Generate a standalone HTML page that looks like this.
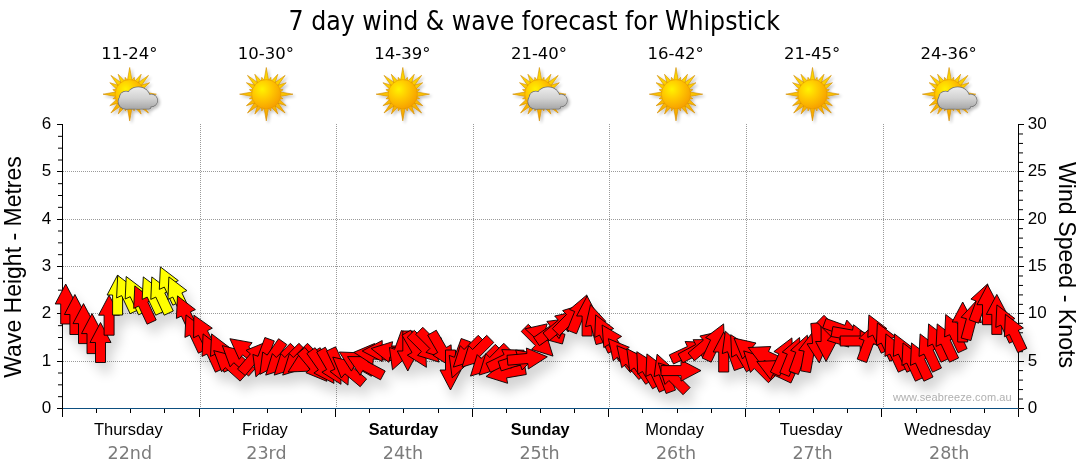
<!DOCTYPE html><html><head><meta charset="utf-8"><title>7 day wind &amp; wave forecast for Whipstick</title>
<style>html,body{margin:0;padding:0;background:#fff;width:1080px;height:475px;overflow:hidden}svg{display:block}.t{font-family:"DejaVu Sans Condensed","DejaVu Sans","Liberation Sans",sans-serif}.a{font-family:"Liberation Sans",Arial,sans-serif}.d{font-family:"DejaVu Sans","Liberation Sans",sans-serif}</style></head><body>
<svg width="1080" height="475" viewBox="0 0 1080 475">
<defs>
<radialGradient id="sd" cx="0.36" cy="0.33" r="0.75">
<stop offset="0" stop-color="#fff200"/><stop offset="0.45" stop-color="#ffc800"/><stop offset="1" stop-color="#f59a00"/></radialGradient>
<linearGradient id="sr" x1="0" y1="0" x2="0" y2="1">
<stop offset="0" stop-color="#ffe000"/><stop offset="1" stop-color="#f5a300"/></linearGradient>
<radialGradient id="cg" cx="0.45" cy="0.25" r="0.85">
<stop offset="0" stop-color="#e6e6e6"/><stop offset="0.55" stop-color="#cdcdcd"/><stop offset="1" stop-color="#9a9a9a"/></radialGradient>
<filter id="ish" x="-30%" y="-30%" width="160%" height="160%"><feGaussianBlur in="SourceAlpha" stdDeviation="1.5"/><feOffset dx="1.5" dy="1.5"/><feComponentTransfer><feFuncA type="linear" slope="0.25"/></feComponentTransfer><feMerge><feMergeNode/><feMergeNode in="SourceGraphic"/></feMerge></filter>
<filter id="ash" x="-10%" y="-30%" width="120%" height="170%"><feGaussianBlur in="SourceAlpha" stdDeviation="6"/><feOffset dx="5" dy="10"/><feComponentTransfer><feFuncA type="linear" slope="0.17"/></feComponentTransfer><feMerge><feMergeNode/><feMergeNode in="SourceGraphic"/></feMerge></filter>
</defs>
<text class="t" x="288.6" y="29.8" font-size="27" textLength="491.5" lengthAdjust="spacingAndGlyphs" fill="#000">7 day wind &amp; wave forecast for Whipstick</text>
<text class="d" x="129.3" y="59" font-size="16.5" text-anchor="middle" fill="#000">11-24°</text>
<g filter="url(#ish)"><path d="M132.30 82.20L129.70 67.50L127.10 82.20ZM134.93 83.18L134.23 77.30L130.68 82.04ZM137.95 85.11L141.20 74.28L133.45 82.51ZM140.02 87.55L148.51 75.39L136.35 83.88ZM141.39 90.45L149.62 82.70L138.79 85.95ZM141.86 93.22L146.60 89.67L140.72 88.97ZM141.70 96.80L156.40 94.20L141.70 91.60ZM140.72 99.43L146.60 98.73L141.86 95.18ZM138.79 102.45L149.62 105.70L141.39 97.95ZM136.35 104.52L148.51 113.01L140.02 100.85ZM133.45 105.89L141.20 114.12L137.95 103.29ZM130.68 106.36L134.23 111.10L134.93 105.22ZM127.10 106.20L129.70 120.90L132.30 106.20ZM124.47 105.22L125.17 111.10L128.72 106.36ZM121.45 103.29L118.20 114.12L125.95 105.89ZM119.38 100.85L110.89 113.01L123.05 104.52ZM118.01 97.95L109.78 105.70L120.61 102.45ZM117.54 95.18L112.80 98.73L118.68 99.43ZM117.70 91.60L103.00 94.20L117.70 96.80ZM118.68 88.97L112.80 89.67L117.54 93.22ZM120.61 85.95L109.78 82.70L118.01 90.45ZM123.05 83.88L110.89 75.39L119.38 87.55ZM125.95 82.51L118.20 74.28L121.45 85.11ZM128.72 82.04L125.17 77.30L124.47 83.18Z" fill="url(#sr)" stroke="#d08a00" stroke-width="0.6" stroke-linejoin="miter"/><circle cx="129.7" cy="94.2" r="14.6" fill="url(#sd)" stroke="#e39400" stroke-width="0.5"/><linearGradient id="cg1" gradientUnits="userSpaceOnUse" x1="0" y1="87.2" x2="0" y2="109.2"><stop offset="0" stop-color="#ececec"/><stop offset="0.5" stop-color="#d2d2d2"/><stop offset="1" stop-color="#a6a6a6"/></linearGradient><g fill="#707070" stroke="#707070" stroke-width="1.5"><circle cx="125.69" cy="101.60" r="7.2"/><circle cx="126.09" cy="97.80" r="6.4"/><ellipse cx="138.28" cy="97.80" rx="11.6" ry="10.6"/><circle cx="151.28" cy="100.40" r="6"/><rect x="124.69" y="100.20" width="26" height="8.6" rx="2"/></g><g fill="url(#cg1)"><circle cx="125.69" cy="101.60" r="7.2"/><circle cx="126.09" cy="97.80" r="6.4"/><ellipse cx="138.28" cy="97.80" rx="11.6" ry="10.6"/><circle cx="151.28" cy="100.40" r="6"/><rect x="124.69" y="100.20" width="26" height="8.6" rx="2"/></g></g>
<text class="a" x="128.3" y="434.5" font-size="16.5" text-anchor="middle" fill="#000">Thursday</text>
<text class="d" x="129.8" y="458.7" font-size="17.5" text-anchor="middle" fill="#7b7b7b">22nd</text>
<text class="d" x="265.9" y="59" font-size="16.5" text-anchor="middle" fill="#000">10-30°</text>
<g filter="url(#ish)"><path d="M268.90 82.20L266.30 67.50L263.70 82.20ZM271.53 83.18L270.83 77.30L267.28 82.04ZM274.55 85.11L277.80 74.28L270.05 82.51ZM276.62 87.55L285.11 75.39L272.95 83.88ZM277.99 90.45L286.22 82.70L275.39 85.95ZM278.46 93.22L283.20 89.67L277.32 88.97ZM278.30 96.80L293.00 94.20L278.30 91.60ZM277.32 99.43L283.20 98.73L278.46 95.18ZM275.39 102.45L286.22 105.70L277.99 97.95ZM272.95 104.52L285.11 113.01L276.62 100.85ZM270.05 105.89L277.80 114.12L274.55 103.29ZM267.28 106.36L270.83 111.10L271.53 105.22ZM263.70 106.20L266.30 120.90L268.90 106.20ZM261.07 105.22L261.77 111.10L265.32 106.36ZM258.05 103.29L254.80 114.12L262.55 105.89ZM255.98 100.85L247.49 113.01L259.65 104.52ZM254.61 97.95L246.38 105.70L257.21 102.45ZM254.14 95.18L249.40 98.73L255.28 99.43ZM254.30 91.60L239.60 94.20L254.30 96.80ZM255.28 88.97L249.40 89.67L254.14 93.22ZM257.21 85.95L246.38 82.70L254.61 90.45ZM259.65 83.88L247.49 75.39L255.98 87.55ZM262.55 82.51L254.80 74.28L258.05 85.11ZM265.32 82.04L261.77 77.30L261.07 83.18Z" fill="url(#sr)" stroke="#d08a00" stroke-width="0.6" stroke-linejoin="miter"/><circle cx="266.3" cy="94.2" r="14.6" fill="url(#sd)" stroke="#e39400" stroke-width="0.5"/></g>
<text class="a" x="264.9" y="434.5" font-size="16.5" text-anchor="middle" fill="#000">Friday</text>
<text class="d" x="266.4" y="458.7" font-size="17.5" text-anchor="middle" fill="#7b7b7b">23rd</text>
<text class="d" x="402.4" y="59" font-size="16.5" text-anchor="middle" fill="#000">14-39°</text>
<g filter="url(#ish)"><path d="M405.40 82.20L402.80 67.50L400.20 82.20ZM408.03 83.18L407.33 77.30L403.78 82.04ZM411.05 85.11L414.30 74.28L406.55 82.51ZM413.12 87.55L421.61 75.39L409.45 83.88ZM414.49 90.45L422.72 82.70L411.89 85.95ZM414.96 93.22L419.70 89.67L413.82 88.97ZM414.80 96.80L429.50 94.20L414.80 91.60ZM413.82 99.43L419.70 98.73L414.96 95.18ZM411.89 102.45L422.72 105.70L414.49 97.95ZM409.45 104.52L421.61 113.01L413.12 100.85ZM406.55 105.89L414.30 114.12L411.05 103.29ZM403.78 106.36L407.33 111.10L408.03 105.22ZM400.20 106.20L402.80 120.90L405.40 106.20ZM397.57 105.22L398.27 111.10L401.82 106.36ZM394.55 103.29L391.30 114.12L399.05 105.89ZM392.48 100.85L383.99 113.01L396.15 104.52ZM391.11 97.95L382.88 105.70L393.71 102.45ZM390.64 95.18L385.90 98.73L391.78 99.43ZM390.80 91.60L376.10 94.20L390.80 96.80ZM391.78 88.97L385.90 89.67L390.64 93.22ZM393.71 85.95L382.88 82.70L391.11 90.45ZM396.15 83.88L383.99 75.39L392.48 87.55ZM399.05 82.51L391.30 74.28L394.55 85.11ZM401.82 82.04L398.27 77.30L397.57 83.18Z" fill="url(#sr)" stroke="#d08a00" stroke-width="0.6" stroke-linejoin="miter"/><circle cx="402.8" cy="94.2" r="14.6" fill="url(#sd)" stroke="#e39400" stroke-width="0.5"/></g>
<text class="a" x="403.6" y="434.5" font-size="16.3" font-weight="bold" text-anchor="middle" fill="#000">Saturday</text>
<text class="d" x="402.9" y="458.7" font-size="17.5" text-anchor="middle" fill="#7b7b7b">24th</text>
<text class="d" x="539.0" y="59" font-size="16.5" text-anchor="middle" fill="#000">21-40°</text>
<g filter="url(#ish)"><path d="M542.00 82.20L539.40 67.50L536.80 82.20ZM544.63 83.18L543.93 77.30L540.38 82.04ZM547.65 85.11L550.90 74.28L543.15 82.51ZM549.72 87.55L558.21 75.39L546.05 83.88ZM551.09 90.45L559.32 82.70L548.49 85.95ZM551.56 93.22L556.30 89.67L550.42 88.97ZM551.40 96.80L566.10 94.20L551.40 91.60ZM550.42 99.43L556.30 98.73L551.56 95.18ZM548.49 102.45L559.32 105.70L551.09 97.95ZM546.05 104.52L558.21 113.01L549.72 100.85ZM543.15 105.89L550.90 114.12L547.65 103.29ZM540.38 106.36L543.93 111.10L544.63 105.22ZM536.80 106.20L539.40 120.90L542.00 106.20ZM534.17 105.22L534.87 111.10L538.42 106.36ZM531.15 103.29L527.90 114.12L535.65 105.89ZM529.08 100.85L520.59 113.01L532.75 104.52ZM527.71 97.95L519.48 105.70L530.31 102.45ZM527.24 95.18L522.50 98.73L528.38 99.43ZM527.40 91.60L512.70 94.20L527.40 96.80ZM528.38 88.97L522.50 89.67L527.24 93.22ZM530.31 85.95L519.48 82.70L527.71 90.45ZM532.75 83.88L520.59 75.39L529.08 87.55ZM535.65 82.51L527.90 74.28L531.15 85.11ZM538.42 82.04L534.87 77.30L534.17 83.18Z" fill="url(#sr)" stroke="#d08a00" stroke-width="0.6" stroke-linejoin="miter"/><circle cx="539.4" cy="94.2" r="14.6" fill="url(#sd)" stroke="#e39400" stroke-width="0.5"/><linearGradient id="cg2" gradientUnits="userSpaceOnUse" x1="0" y1="87.2" x2="0" y2="109.2"><stop offset="0" stop-color="#ececec"/><stop offset="0.5" stop-color="#d2d2d2"/><stop offset="1" stop-color="#a6a6a6"/></linearGradient><g fill="#707070" stroke="#707070" stroke-width="1.5"><circle cx="535.39" cy="101.60" r="7.2"/><circle cx="535.79" cy="97.80" r="6.4"/><ellipse cx="548.00" cy="97.80" rx="11.6" ry="10.6"/><circle cx="561.00" cy="100.40" r="6"/><rect x="534.39" y="100.20" width="26" height="8.6" rx="2"/></g><g fill="url(#cg2)"><circle cx="535.39" cy="101.60" r="7.2"/><circle cx="535.79" cy="97.80" r="6.4"/><ellipse cx="548.00" cy="97.80" rx="11.6" ry="10.6"/><circle cx="561.00" cy="100.40" r="6"/><rect x="534.39" y="100.20" width="26" height="8.6" rx="2"/></g></g>
<text class="a" x="540.2" y="434.5" font-size="16.3" font-weight="bold" text-anchor="middle" fill="#000">Sunday</text>
<text class="d" x="539.5" y="458.7" font-size="17.5" text-anchor="middle" fill="#7b7b7b">25th</text>
<text class="d" x="675.6" y="59" font-size="16.5" text-anchor="middle" fill="#000">16-42°</text>
<g filter="url(#ish)"><path d="M678.60 82.20L676.00 67.50L673.40 82.20ZM681.23 83.18L680.53 77.30L676.98 82.04ZM684.25 85.11L687.50 74.28L679.75 82.51ZM686.32 87.55L694.81 75.39L682.65 83.88ZM687.69 90.45L695.92 82.70L685.09 85.95ZM688.16 93.22L692.90 89.67L687.02 88.97ZM688.00 96.80L702.70 94.20L688.00 91.60ZM687.02 99.43L692.90 98.73L688.16 95.18ZM685.09 102.45L695.92 105.70L687.69 97.95ZM682.65 104.52L694.81 113.01L686.32 100.85ZM679.75 105.89L687.50 114.12L684.25 103.29ZM676.98 106.36L680.53 111.10L681.23 105.22ZM673.40 106.20L676.00 120.90L678.60 106.20ZM670.77 105.22L671.47 111.10L675.02 106.36ZM667.75 103.29L664.50 114.12L672.25 105.89ZM665.68 100.85L657.19 113.01L669.35 104.52ZM664.31 97.95L656.08 105.70L666.91 102.45ZM663.84 95.18L659.10 98.73L664.98 99.43ZM664.00 91.60L649.30 94.20L664.00 96.80ZM664.98 88.97L659.10 89.67L663.84 93.22ZM666.91 85.95L656.08 82.70L664.31 90.45ZM669.35 83.88L657.19 75.39L665.68 87.55ZM672.25 82.51L664.50 74.28L667.75 85.11ZM675.02 82.04L671.47 77.30L670.77 83.18Z" fill="url(#sr)" stroke="#d08a00" stroke-width="0.6" stroke-linejoin="miter"/><circle cx="676.0" cy="94.2" r="14.6" fill="url(#sd)" stroke="#e39400" stroke-width="0.5"/></g>
<text class="a" x="674.6" y="434.5" font-size="16.5" text-anchor="middle" fill="#000">Monday</text>
<text class="d" x="676.1" y="458.7" font-size="17.5" text-anchor="middle" fill="#7b7b7b">26th</text>
<text class="d" x="812.1" y="59" font-size="16.5" text-anchor="middle" fill="#000">21-45°</text>
<g filter="url(#ish)"><path d="M815.10 82.20L812.50 67.50L809.90 82.20ZM817.73 83.18L817.03 77.30L813.48 82.04ZM820.75 85.11L824.00 74.28L816.25 82.51ZM822.82 87.55L831.31 75.39L819.15 83.88ZM824.19 90.45L832.42 82.70L821.59 85.95ZM824.66 93.22L829.40 89.67L823.52 88.97ZM824.50 96.80L839.20 94.20L824.50 91.60ZM823.52 99.43L829.40 98.73L824.66 95.18ZM821.59 102.45L832.42 105.70L824.19 97.95ZM819.15 104.52L831.31 113.01L822.82 100.85ZM816.25 105.89L824.00 114.12L820.75 103.29ZM813.48 106.36L817.03 111.10L817.73 105.22ZM809.90 106.20L812.50 120.90L815.10 106.20ZM807.27 105.22L807.97 111.10L811.52 106.36ZM804.25 103.29L801.00 114.12L808.75 105.89ZM802.18 100.85L793.69 113.01L805.85 104.52ZM800.81 97.95L792.58 105.70L803.41 102.45ZM800.34 95.18L795.60 98.73L801.48 99.43ZM800.50 91.60L785.80 94.20L800.50 96.80ZM801.48 88.97L795.60 89.67L800.34 93.22ZM803.41 85.95L792.58 82.70L800.81 90.45ZM805.85 83.88L793.69 75.39L802.18 87.55ZM808.75 82.51L801.00 74.28L804.25 85.11ZM811.52 82.04L807.97 77.30L807.27 83.18Z" fill="url(#sr)" stroke="#d08a00" stroke-width="0.6" stroke-linejoin="miter"/><circle cx="812.5" cy="94.2" r="14.6" fill="url(#sd)" stroke="#e39400" stroke-width="0.5"/></g>
<text class="a" x="811.1" y="434.5" font-size="16.5" text-anchor="middle" fill="#000">Tuesday</text>
<text class="d" x="812.6" y="458.7" font-size="17.5" text-anchor="middle" fill="#7b7b7b">27th</text>
<text class="d" x="948.7" y="59" font-size="16.5" text-anchor="middle" fill="#000">24-36°</text>
<g filter="url(#ish)"><path d="M951.70 82.20L949.10 67.50L946.50 82.20ZM954.33 83.18L953.63 77.30L950.08 82.04ZM957.35 85.11L960.60 74.28L952.85 82.51ZM959.42 87.55L967.91 75.39L955.75 83.88ZM960.79 90.45L969.02 82.70L958.19 85.95ZM961.26 93.22L966.00 89.67L960.12 88.97ZM961.10 96.80L975.80 94.20L961.10 91.60ZM960.12 99.43L966.00 98.73L961.26 95.18ZM958.19 102.45L969.02 105.70L960.79 97.95ZM955.75 104.52L967.91 113.01L959.42 100.85ZM952.85 105.89L960.60 114.12L957.35 103.29ZM950.08 106.36L953.63 111.10L954.33 105.22ZM946.50 106.20L949.10 120.90L951.70 106.20ZM943.87 105.22L944.57 111.10L948.12 106.36ZM940.85 103.29L937.60 114.12L945.35 105.89ZM938.78 100.85L930.29 113.01L942.45 104.52ZM937.41 97.95L929.18 105.70L940.01 102.45ZM936.94 95.18L932.20 98.73L938.08 99.43ZM937.10 91.60L922.40 94.20L937.10 96.80ZM938.08 88.97L932.20 89.67L936.94 93.22ZM940.01 85.95L929.18 82.70L937.41 90.45ZM942.45 83.88L930.29 75.39L938.78 87.55ZM945.35 82.51L937.60 74.28L940.85 85.11ZM948.12 82.04L944.57 77.30L943.87 83.18Z" fill="url(#sr)" stroke="#d08a00" stroke-width="0.6" stroke-linejoin="miter"/><circle cx="949.1" cy="94.2" r="14.6" fill="url(#sd)" stroke="#e39400" stroke-width="0.5"/><linearGradient id="cg3" gradientUnits="userSpaceOnUse" x1="0" y1="87.2" x2="0" y2="109.2"><stop offset="0" stop-color="#ececec"/><stop offset="0.5" stop-color="#d2d2d2"/><stop offset="1" stop-color="#a6a6a6"/></linearGradient><g fill="#707070" stroke="#707070" stroke-width="1.5"><circle cx="945.10" cy="101.60" r="7.2"/><circle cx="945.50" cy="97.80" r="6.4"/><ellipse cx="957.70" cy="97.80" rx="11.6" ry="10.6"/><circle cx="970.70" cy="100.40" r="6"/><rect x="944.10" y="100.20" width="26" height="8.6" rx="2"/></g><g fill="url(#cg3)"><circle cx="945.10" cy="101.60" r="7.2"/><circle cx="945.50" cy="97.80" r="6.4"/><ellipse cx="957.70" cy="97.80" rx="11.6" ry="10.6"/><circle cx="970.70" cy="100.40" r="6"/><rect x="944.10" y="100.20" width="26" height="8.6" rx="2"/></g></g>
<text class="a" x="947.7" y="434.5" font-size="16.5" text-anchor="middle" fill="#000">Wednesday</text>
<text class="d" x="949.2" y="458.7" font-size="17.5" text-anchor="middle" fill="#7b7b7b">28th</text>
<path d="M63 361.5H1018M63 313.5H1018M63 266.5H1018M63 219.5H1018M63 171.5H1018M200.5 124V408M336.5 124V408M473.5 124V408M609.5 124V408M746.5 124V408M883.5 124V408" stroke="#9a9a9a" stroke-width="1" stroke-dasharray="1 1" fill="none"/>
<text class="a" x="893" y="400.8" font-size="11" letter-spacing="0.1" fill="#b0b0b0">www.seabreeze.com.au</text>
<path d="M62.5 124V417M1018.5 124V408.5M57 408.5H62.5M58 396.67H62.5M58 384.83H62.5M58 373.00H62.5M57 361.5H62.5M58 349.33H62.5M58 337.50H62.5M58 325.67H62.5M57 313.5H62.5M58 302.00H62.5M58 290.17H62.5M58 278.33H62.5M57 266.5H62.5M58 254.67H62.5M58 242.83H62.5M58 231.00H62.5M57 219.5H62.5M58 207.33H62.5M58 195.50H62.5M58 183.67H62.5M57 171.5H62.5M58 160.00H62.5M58 148.17H62.5M58 136.34H62.5M57 124.5H62.5M1018.5 408.5H1024M1018.5 399.03H1023M1018.5 389.57H1023M1018.5 380.10H1023M1018.5 370.63H1023M1018.5 361.5H1024M1018.5 351.70H1023M1018.5 342.23H1023M1018.5 332.77H1023M1018.5 323.30H1023M1018.5 313.5H1024M1018.5 304.37H1023M1018.5 294.90H1023M1018.5 285.43H1023M1018.5 275.97H1023M1018.5 266.5H1024M1018.5 257.03H1023M1018.5 247.57H1023M1018.5 238.10H1023M1018.5 228.63H1023M1018.5 219.5H1024M1018.5 209.70H1023M1018.5 200.23H1023M1018.5 190.77H1023M1018.5 181.30H1023M1018.5 171.5H1024M1018.5 162.37H1023M1018.5 152.90H1023M1018.5 143.43H1023M1018.5 133.97H1023M1018.5 124.5H1024" stroke="#000" stroke-width="1" fill="none"/>
<path d="M96.5 409V413M130.5 409V413M164.5 409V413M199.5 409V417M233.5 409V413M267.5 409V413M301.5 409V413M335.5 409V417M369.5 409V413M403.5 409V413M438.5 409V413M472.5 409V417M506.5 409V413M540.5 409V413M574.5 409V413M608.5 409V417M642.5 409V413M677.5 409V413M711.5 409V413M745.5 409V417M779.5 409V413M813.5 409V413M847.5 409V413M881.5 409V417M916.5 409V413M950.5 409V413M984.5 409V413M1018.5 409V417" stroke="#000" stroke-width="1" fill="none"/>
<path d="M63 408.5H1018" stroke="#0d4f80" stroke-width="1.2" fill="none"/>
<g filter="url(#ash)" stroke="#000" stroke-width="0.9" stroke-linejoin="miter"><polygon points="65.7,284.0 76.2,304.0 70.7,304.0 70.7,324.0 60.7,324.0 60.7,304.0 55.2,304.0" fill="#ff0000"/><polygon points="74.9,294.5 85.4,314.5 79.9,314.5 79.9,334.5 69.9,334.5 69.9,314.5 64.4,314.5" fill="#ff0000"/><polygon points="83.5,303.6 94.0,323.6 88.5,323.6 88.5,343.6 78.5,343.6 78.5,323.6 73.0,323.6" fill="#ff0000"/><polygon points="92.0,313.6 102.5,333.6 97.0,333.6 97.0,353.6 87.0,353.6 87.0,333.6 81.5,333.6" fill="#ff0000"/><polygon points="100.5,322.5 111.0,342.5 105.5,342.5 105.5,362.5 95.5,362.5 95.5,342.5 90.0,342.5" fill="#ff0000"/><polygon points="109.1,295.2 119.6,315.2 114.1,315.2 114.1,335.2 104.1,335.2 104.1,315.2 98.6,315.2" fill="#ff0000"/><polygon points="117.6,275.0 128.1,295.0 122.6,295.0 122.6,315.0 112.6,315.0 112.6,295.0 107.1,295.0" fill="#ffff00"/><polygon points="117.7,275.4 135.7,289.1 130.7,291.4 139.1,309.5 130.1,313.7 121.6,295.6 116.6,297.9" fill="#ffff00"/><polygon points="126.2,276.5 144.2,290.2 139.2,292.5 147.7,310.6 138.6,314.8 130.2,296.7 125.2,299.0" fill="#ffff00"/><polygon points="134.8,285.9 152.7,299.6 147.8,301.9 156.2,320.0 147.1,324.2 138.7,306.1 133.7,308.4" fill="#ff0000"/><polygon points="143.3,276.9 161.3,290.6 156.3,292.9 164.7,311.0 155.7,315.2 147.2,297.1 142.2,299.4" fill="#ffff00"/><polygon points="151.8,276.9 169.8,290.6 164.8,292.9 173.3,311.0 164.2,315.2 155.8,297.1 150.8,299.4" fill="#ffff00"/><polygon points="160.4,266.9 178.3,280.6 173.4,282.9 181.8,301.0 172.8,305.2 164.3,287.1 159.3,289.4" fill="#ffff00"/><polygon points="168.9,276.9 186.9,290.6 181.9,292.9 190.4,311.0 181.3,315.2 172.8,297.1 167.9,299.4" fill="#ffff00"/><polygon points="177.5,295.9 195.4,309.6 190.4,311.9 198.9,330.0 189.8,334.2 181.4,316.1 176.4,318.4" fill="#ff0000"/><polygon points="186.0,314.9 204.0,328.6 199.0,330.9 207.4,349.0 198.4,353.2 189.9,335.1 184.9,337.4" fill="#ff0000"/><polygon points="193.9,315.2 212.3,328.2 207.4,330.7 216.5,348.6 207.6,353.1 198.5,335.3 193.6,337.8" fill="#ff0000"/><polygon points="203.1,333.9 221.0,347.6 216.0,349.9 224.5,368.0 215.4,372.2 207.0,354.1 202.0,356.4" fill="#ff0000"/><polygon points="211.6,333.9 229.6,347.6 224.6,349.9 233.0,368.0 224.0,372.2 215.5,354.1 210.5,356.4" fill="#ff0000"/><polygon points="213.7,350.6 235.6,356.2 231.9,360.3 246.8,373.7 240.1,381.1 225.2,367.7 221.6,371.8" fill="#ff0000"/><polygon points="222.3,345.6 244.1,351.2 240.5,355.3 255.3,368.7 248.6,376.1 233.8,362.7 230.1,366.8" fill="#ff0000"/><polygon points="229.9,338.7 252.1,342.7 248.7,347.1 264.5,359.4 258.3,367.3 242.6,354.9 239.2,359.3" fill="#ff0000"/><polygon points="267.0,341.7 262.2,363.7 258.0,360.2 245.2,375.5 237.5,369.1 250.4,353.8 246.1,350.3" fill="#ff0000"/><polygon points="255.9,376.8 252.9,354.4 258.0,356.3 264.9,337.5 274.3,340.9 267.4,359.7 272.6,361.6" fill="#ff0000"/><polygon points="259.8,374.4 262.7,352.0 267.2,355.1 278.6,338.7 286.8,344.5 275.4,360.9 279.9,364.0" fill="#ff0000"/><polygon points="265.7,375.1 272.4,353.6 276.3,357.5 290.4,343.3 297.5,350.4 283.3,364.5 287.2,368.4" fill="#ff0000"/><polygon points="274.2,375.1 280.9,353.6 284.8,357.5 298.9,343.3 306.0,350.4 291.9,364.5 295.8,368.4" fill="#ff0000"/><polygon points="282.7,375.1 289.4,353.6 293.3,357.5 307.5,343.3 314.5,350.4 300.4,364.5 304.3,368.4" fill="#ff0000"/><polygon points="288.1,372.0 300.2,352.9 302.9,357.7 320.2,347.7 325.2,356.3 307.9,366.3 310.7,371.1" fill="#ff0000"/><polygon points="326.8,381.3 305.9,372.7 310.1,369.2 297.3,353.9 304.9,347.5 317.8,362.8 322.0,359.3" fill="#ff0000"/><polygon points="334.0,383.4 313.9,373.0 318.4,369.9 306.9,353.5 315.1,347.7 326.6,364.1 331.1,361.0" fill="#ff0000"/><polygon points="341.0,384.3 321.9,372.2 326.7,369.5 316.7,352.2 325.3,347.2 335.3,364.5 340.1,361.8" fill="#ff0000"/><polygon points="348.0,385.1 330.0,371.4 335.0,369.1 326.6,351.0 335.6,346.8 344.1,364.9 349.1,362.6" fill="#ff0000"/><polygon points="332.8,357.1 354.8,362.0 351.3,366.2 366.6,379.0 360.2,386.7 344.9,373.8 341.3,378.0" fill="#ff0000"/><polygon points="339.3,352.0 361.9,352.9 359.1,357.7 376.4,367.7 371.4,376.3 354.1,366.3 351.4,371.1" fill="#ff0000"/><polygon points="347.5,356.6 370.1,356.7 367.5,361.6 385.2,371.0 380.5,379.8 362.8,370.4 360.2,375.3" fill="#ff0000"/><polygon points="353.8,352.3 374.6,343.5 374.1,349.0 394.1,350.8 393.2,360.7 373.3,359.0 372.8,364.5" fill="#ff0000"/><polygon points="362.2,351.0 382.2,340.5 382.2,346.0 402.2,346.0 402.2,356.0 382.2,356.0 382.2,361.5" fill="#ff0000"/><polygon points="371.1,348.5 392.6,341.7 391.6,347.1 411.3,350.5 409.6,360.4 389.9,356.9 388.9,362.3" fill="#ff0000"/><polygon points="392.5,369.8 389.4,347.4 394.6,349.3 401.4,330.5 410.8,333.9 404.0,352.7 409.2,354.6" fill="#ff0000"/><polygon points="407.8,371.0 397.3,351.0 402.8,351.0 402.8,331.0 412.8,331.0 412.8,351.0 418.3,351.0" fill="#ff0000"/><polygon points="426.4,367.3 407.3,355.2 412.0,352.5 402.0,335.2 410.7,330.2 420.7,347.5 425.5,344.8" fill="#ff0000"/><polygon points="439.1,362.1 417.5,355.4 421.4,351.5 407.2,337.4 414.3,330.3 428.4,344.5 432.3,340.6" fill="#ff0000"/><polygon points="447.6,359.1 426.0,352.4 429.9,348.5 415.8,334.4 422.8,327.3 437.0,341.5 440.9,337.6" fill="#ff0000"/><polygon points="452.0,367.3 432.9,355.2 437.7,352.5 427.7,335.2 436.3,330.2 446.3,347.5 451.1,344.8" fill="#ff0000"/><polygon points="450.5,390.0 440.0,370.0 445.5,370.0 445.5,350.0 455.5,350.0 455.5,370.0 461.0,370.0" fill="#ff0000"/><polygon points="452.2,377.8 449.2,355.4 454.4,357.3 461.2,338.5 470.6,341.9 463.8,360.7 468.9,362.6" fill="#ff0000"/><polygon points="453.4,367.1 460.2,345.6 464.1,349.5 478.2,335.3 485.3,342.4 471.1,356.5 475.0,360.4" fill="#ff0000"/><polygon points="462.0,367.1 468.7,345.6 472.6,349.5 486.7,335.3 493.8,342.4 479.7,356.5 483.6,360.4" fill="#ff0000"/><polygon points="470.5,376.1 477.2,354.6 481.1,358.5 495.3,344.3 502.3,351.4 488.2,365.5 492.1,369.4" fill="#ff0000"/><polygon points="479.1,375.1 485.8,353.6 489.7,357.5 503.8,343.3 510.9,350.4 496.7,364.5 500.6,368.4" fill="#ff0000"/><polygon points="486.0,376.5 503.9,362.7 504.9,368.1 524.6,364.6 526.3,374.5 506.6,377.9 507.6,383.3" fill="#ff0000"/><polygon points="524.2,350.2 510.9,368.4 508.5,363.5 490.5,372.3 486.1,363.3 504.1,354.5 501.7,349.6" fill="#ff0000"/><polygon points="537.8,353.8 522.1,370.0 520.4,364.8 501.3,370.9 498.2,361.4 517.3,355.2 515.6,350.0" fill="#ff0000"/><polygon points="547.3,356.8 528.3,369.0 527.8,363.5 507.9,365.2 507.0,355.3 526.9,353.5 526.4,348.0" fill="#ff0000"/><polygon points="553.0,356.1 531.5,349.4 535.3,345.5 521.2,331.4 528.3,324.3 542.4,338.5 546.3,334.6" fill="#ff0000"/><polygon points="525.1,328.8 547.1,323.9 545.7,329.2 565.0,334.3 562.4,344.0 543.1,338.8 541.7,344.1" fill="#ff0000"/><polygon points="569.3,318.5 559.0,338.6 555.8,334.1 539.4,345.6 533.7,337.4 550.1,325.9 546.9,321.4" fill="#ff0000"/><polygon points="576.8,311.1 568.2,332.0 564.7,327.8 549.4,340.7 543.0,333.0 558.3,320.2 554.7,316.0" fill="#ff0000"/><polygon points="584.2,303.9 577.4,325.4 573.6,321.5 559.4,335.7 552.3,328.6 566.5,314.5 562.6,310.6" fill="#ff0000"/><polygon points="586.9,294.9 589.1,317.3 584.0,315.3 576.5,333.8 567.2,330.1 574.7,311.5 569.6,309.5" fill="#ff0000"/><polygon points="587.1,296.0 597.6,316.0 592.1,316.0 592.1,336.0 582.1,336.0 582.1,316.0 576.6,316.0" fill="#ff0000"/><polygon points="590.5,304.7 605.8,321.3 600.5,322.7 605.6,342.0 596.0,344.6 590.8,325.3 585.5,326.7" fill="#ff0000"/><polygon points="595.7,314.9 613.7,328.6 608.7,330.9 617.2,349.0 608.1,353.2 599.6,335.1 594.7,337.4" fill="#ff0000"/><polygon points="602.1,325.0 621.6,336.4 616.9,339.4 627.5,356.3 619.1,361.6 608.5,344.6 603.8,347.6" fill="#ff0000"/><polygon points="608.4,338.7 629.3,347.3 625.1,350.8 637.9,366.1 630.3,372.5 617.4,357.2 613.2,360.7" fill="#ff0000"/><polygon points="616.9,345.7 637.8,354.3 633.6,357.8 646.5,373.1 638.8,379.5 625.9,364.2 621.7,367.7" fill="#ff0000"/><polygon points="626.8,348.6 646.9,359.0 642.4,362.1 653.9,378.5 645.7,384.3 634.2,367.9 629.7,371.0" fill="#ff0000"/><polygon points="636.8,351.7 655.9,363.8 651.2,366.5 661.2,383.8 652.5,388.8 642.5,371.5 637.8,374.2" fill="#ff0000"/><polygon points="646.9,353.9 664.9,367.6 659.9,369.9 668.4,388.0 659.3,392.2 650.9,374.1 645.9,376.4" fill="#ff0000"/><polygon points="657.1,354.2 673.8,369.4 668.6,371.3 675.5,390.1 666.1,393.5 659.2,374.7 654.1,376.6" fill="#ff0000"/><polygon points="658.3,362.9 679.9,369.6 676.0,373.5 690.1,387.6 683.1,394.7 668.9,380.5 665.0,384.4" fill="#ff0000"/><polygon points="701.0,370.6 681.0,381.1 681.0,375.6 661.0,375.6 661.0,365.6 681.0,365.6 681.0,360.1" fill="#ff0000"/><polygon points="707.7,342.5 694.0,360.5 691.6,355.5 673.5,364.0 669.3,354.9 687.4,346.5 685.1,341.5" fill="#ff0000"/><polygon points="715.7,339.6 703.0,358.3 700.4,353.4 682.8,362.8 678.1,354.0 695.7,344.6 693.1,339.7" fill="#ff0000"/><polygon points="721.9,331.1 713.3,352.0 709.8,347.8 694.5,360.7 688.1,353.0 703.4,340.2 699.9,336.0" fill="#ff0000"/><polygon points="723.6,323.9 724.7,346.4 719.7,344.1 711.2,362.2 702.2,358.0 710.6,339.9 705.6,337.6" fill="#ff0000"/><polygon points="723.7,332.0 734.2,352.0 728.7,352.0 728.7,372.0 718.7,372.0 718.7,352.0 713.2,352.0" fill="#ff0000"/><polygon points="725.4,331.2 742.1,346.4 736.9,348.3 743.7,367.1 734.3,370.5 727.5,351.7 722.3,353.6" fill="#ff0000"/><polygon points="730.7,334.7 749.8,346.8 745.1,349.5 755.1,366.8 746.4,371.8 736.4,354.5 731.7,357.2" fill="#ff0000"/><polygon points="734.0,338.1 756.0,343.0 752.5,347.2 767.8,360.0 761.4,367.7 746.1,354.8 742.5,359.0" fill="#ff0000"/><polygon points="743.7,350.9 765.2,357.6 761.4,361.5 775.5,375.6 768.4,382.7 754.3,368.5 750.4,372.4" fill="#ff0000"/><polygon points="748.2,347.5 770.8,346.5 768.5,351.5 786.6,359.9 782.4,369.0 764.2,360.5 761.9,365.5" fill="#ff0000"/><polygon points="756.8,361.5 779.3,360.5 777.0,365.5 795.1,373.9 790.9,383.0 772.8,374.5 770.5,379.5" fill="#ff0000"/><polygon points="791.9,337.9 792.9,360.4 788.0,358.1 779.5,376.2 770.4,372.0 778.9,353.9 773.9,351.6" fill="#ff0000"/><polygon points="799.5,337.5 801.7,359.9 796.6,357.9 789.1,376.4 779.8,372.7 787.3,354.1 782.2,352.1" fill="#ff0000"/><polygon points="807.3,335.2 810.4,357.6 805.2,355.7 798.4,374.5 789.0,371.1 795.8,352.3 790.6,350.4" fill="#ff0000"/><polygon points="812.5,332.3 819.4,353.8 814.0,352.9 810.5,372.6 800.6,370.8 804.1,351.1 798.7,350.2" fill="#ff0000"/><polygon points="819.3,362.9 807.1,343.9 812.6,343.4 810.8,323.5 820.8,322.6 822.5,342.6 828.0,342.1" fill="#ff0000"/><polygon points="826.1,361.5 815.6,341.5 821.1,341.5 821.1,321.5 831.1,321.5 831.1,341.5 836.6,341.5" fill="#ff0000"/><polygon points="848.8,347.1 827.2,340.4 831.1,336.5 817.0,322.4 824.0,315.3 838.2,329.5 842.1,325.6" fill="#ff0000"/><polygon points="862.0,336.8 839.6,339.9 841.5,334.7 822.7,327.9 826.1,318.5 844.9,325.3 846.8,320.1" fill="#ff0000"/><polygon points="871.4,338.5 849.9,345.3 850.8,339.9 831.1,336.5 832.9,326.6 852.6,330.1 853.5,324.7" fill="#ff0000"/><polygon points="880.2,341.0 860.2,351.5 860.2,346.0 840.2,346.0 840.2,336.0 860.2,336.0 860.2,330.5" fill="#ff0000"/><polygon points="875.6,323.2 878.7,345.6 873.5,343.7 866.6,362.5 857.2,359.1 864.1,340.3 858.9,338.4" fill="#ff0000"/><polygon points="868.9,314.9 886.8,328.6 881.9,330.9 890.3,349.0 881.2,353.2 872.8,335.1 867.8,337.4" fill="#ff0000"/><polygon points="877.4,322.9 895.4,336.6 890.4,338.9 898.8,357.0 889.8,361.2 881.3,343.1 876.3,345.4" fill="#ff0000"/><polygon points="885.9,333.9 903.9,347.6 898.9,349.9 907.4,368.0 898.3,372.2 889.9,354.1 884.9,356.4" fill="#ff0000"/><polygon points="894.5,333.9 912.4,347.6 907.5,349.9 915.9,368.0 906.8,372.2 898.4,354.1 893.4,356.4" fill="#ff0000"/><polygon points="903.0,342.9 921.0,356.6 916.0,358.9 924.4,377.0 915.4,381.2 906.9,363.1 901.9,365.4" fill="#ff0000"/><polygon points="911.5,342.9 929.5,356.6 924.5,358.9 933.0,377.0 923.9,381.2 915.5,363.1 910.5,365.4" fill="#ff0000"/><polygon points="920.1,333.9 938.1,347.6 933.1,349.9 941.5,368.0 932.5,372.2 924.0,354.1 919.0,356.4" fill="#ff0000"/><polygon points="928.6,323.9 946.6,337.6 941.6,339.9 950.1,358.0 941.0,362.2 932.5,344.1 927.6,346.4" fill="#ff0000"/><polygon points="937.2,323.9 955.1,337.6 950.1,339.9 958.6,358.0 949.5,362.2 941.1,344.1 936.1,346.4" fill="#ff0000"/><polygon points="945.7,314.5 963.7,328.2 958.7,330.5 967.1,348.6 958.1,352.8 949.6,334.7 944.6,337.0" fill="#ff0000"/><polygon points="962.7,302.0 973.2,322.0 967.7,322.0 967.7,342.0 957.7,342.0 957.7,322.0 952.2,322.0" fill="#ff0000"/><polygon points="976.4,300.7 981.4,322.7 976.0,321.3 970.9,340.6 961.2,338.0 966.4,318.7 961.1,317.3" fill="#ff0000"/><polygon points="987.6,283.9 990.6,306.3 985.5,304.4 978.6,323.2 969.2,319.8 976.1,301.0 970.9,299.1" fill="#ff0000"/><polygon points="987.5,284.7 998.0,304.7 992.5,304.7 992.5,324.7 982.5,324.7 982.5,304.7 977.0,304.7" fill="#ff0000"/><polygon points="996.8,294.4 1007.3,314.4 1001.8,314.4 1001.8,334.4 991.8,334.4 991.8,314.4 986.3,314.4" fill="#ff0000"/><polygon points="996.9,304.9 1014.9,318.6 1009.9,320.9 1018.3,339.0 1009.3,343.2 1000.8,325.1 995.8,327.4" fill="#ff0000"/><polygon points="1005.4,314.3 1023.4,328.0 1018.4,330.3 1026.9,348.4 1017.8,352.6 1009.4,334.5 1004.4,336.8" fill="#ff0000"/></g>
<text class="a" x="51.3" y="413.1" font-size="17" text-anchor="end" fill="#000">0</text>
<text class="a" x="51.3" y="366.1" font-size="17" text-anchor="end" fill="#000">1</text>
<text class="a" x="51.3" y="318.1" font-size="17" text-anchor="end" fill="#000">2</text>
<text class="a" x="51.3" y="271.1" font-size="17" text-anchor="end" fill="#000">3</text>
<text class="a" x="51.3" y="224.1" font-size="17" text-anchor="end" fill="#000">4</text>
<text class="a" x="51.3" y="176.1" font-size="17" text-anchor="end" fill="#000">5</text>
<text class="a" x="51.3" y="129.1" font-size="17" text-anchor="end" fill="#000">6</text>
<text class="a" x="1027.8" y="413.3" font-size="17" fill="#000">0</text>
<text class="a" x="1027.8" y="366.3" font-size="17" fill="#000">5</text>
<text class="a" x="1027.8" y="318.3" font-size="17" fill="#000">10</text>
<text class="a" x="1027.8" y="271.3" font-size="17" fill="#000">15</text>
<text class="a" x="1027.8" y="224.3" font-size="17" fill="#000">20</text>
<text class="a" x="1027.8" y="176.3" font-size="17" fill="#000">25</text>
<text class="a" x="1027.8" y="129.3" font-size="17" fill="#000">30</text>
<text class="a" transform="translate(20.5 267) rotate(-90)" font-size="23" text-anchor="middle" fill="#000">Wave Height - Metres</text>
<text class="a" transform="translate(1059 265) rotate(90)" font-size="23.2" text-anchor="middle" fill="#000">Wind Speed - Knots</text>
</svg></body></html>
